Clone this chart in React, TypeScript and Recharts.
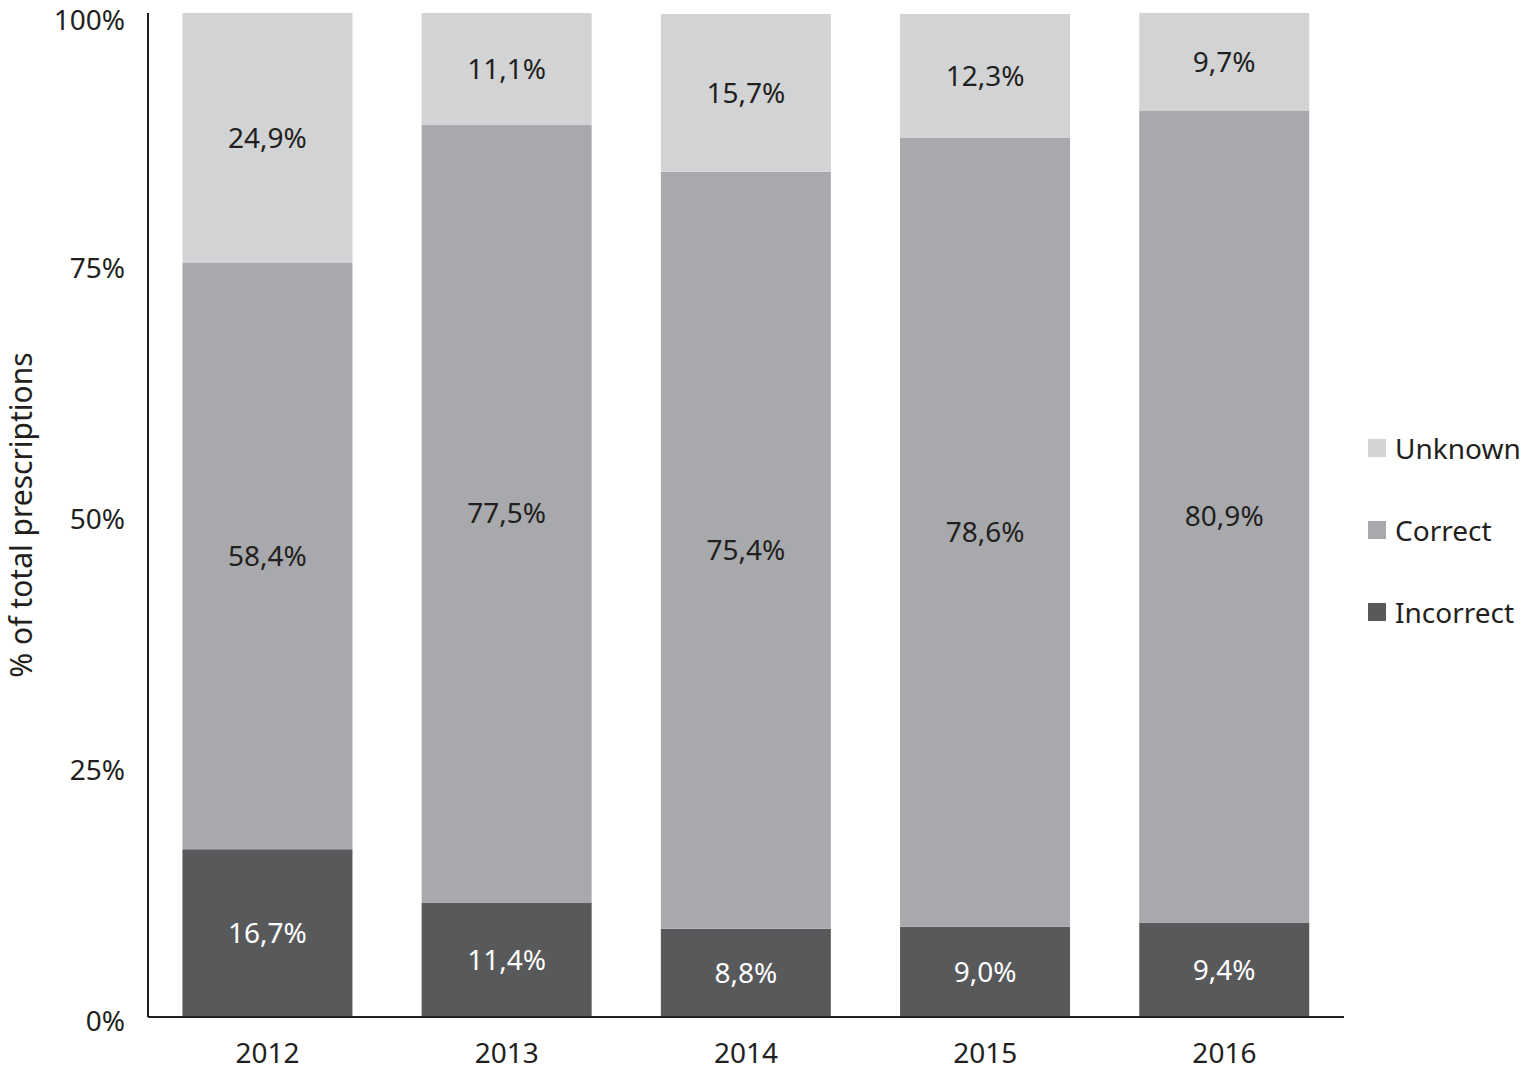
import React from "react";
import { BarChart, Bar, XAxis, YAxis, Legend, LabelList, Label } from "recharts";

const years = ["2012", "2013", "2014", "2015", "2016"];
const incorrect = [16.7, 11.4, 8.8, 9.0, 9.4];
const correct = [58.4, 77.5, 75.4, 78.6, 80.9];
const unknown = [24.9, 11.1, 15.7, 12.3, 9.7];
const yTicks = [0, 25, 50, 75, 100];

const series = [
  { key: "unknown", name: "Unknown", color: "#d1d3d4" },
  { key: "correct", name: "Correct", color: "#a7a9ac" },
  { key: "incorrect", name: "Incorrect", color: "#58595b" },
];

const data = years.map((year, i) => ({
  year,
  incorrect: incorrect[i],
  correct: correct[i],
  unknown: unknown[i],
}));

const FONT = "'Noto Sans', sans-serif";
const INK = "#231f20";
const FS = 28;

const fmt = (v: any) => `${Number(v).toFixed(1).replace(".", ",")}%`;

function LegendBox() {
  return (
    <div style={{ fontFamily: FONT, fontSize: FS, color: INK }}>
      {series.map((s) => (
        <div key={s.key} style={{ display: "flex", alignItems: "center", height: 36, marginBottom: 46 }}>
          <div style={{ width: 18, height: 18, background: s.color, marginRight: 9 }} />
          <span>{s.name}</span>
        </div>
      ))}
    </div>
  );
}

export default function App() {
  return (
    <div style={{ position: "absolute", left: 0, top: 0, background: "#fff" }}>
      <BarChart
        width={1524}
        height={1071}
        data={data}
        margin={{ top: 13, right: 20, bottom: 0, left: 0 }}
        barCategoryGap="14.4%"
      >
        <XAxis
          dataKey="year"
          height={54}
          tickLine={false}
          tickSize={0}
          tickMargin={26}
          axisLine={{ stroke: INK, strokeWidth: 2 }}
          tick={{ fill: INK, fontSize: FS, fontFamily: FONT }}
        />
        <YAxis
          width={148}
          domain={[0, 100]}
          ticks={yTicks}
          tickFormatter={(v) => `${v}%`}
          tickLine={false}
          tickSize={0}
          tickMargin={23}
          axisLine={{ stroke: INK, strokeWidth: 2 }}
          tick={{ fill: INK, fontSize: FS, fontFamily: FONT, dy: 4 }}
        >
          <Label
            content={({ viewBox }: any) => {
              const cy = viewBox.y + viewBox.height / 2;
              return (
                <text
                  transform={`translate(20, ${cy}) rotate(-90)`}
                  textAnchor="middle"
                  dominantBaseline="central"
                  fill={INK}
                  fontSize={30}
                  fontFamily={FONT}
                >
                  % of total prescriptions
                </text>
              );
            }}
          />
        </YAxis>
        <Legend
          layout="vertical"
          align="right"
          verticalAlign="middle"
          content={() => <LegendBox />}
          wrapperStyle={{ left: 1368, top: 430, width: 160, right: "auto" }}
        />
        <Bar dataKey="incorrect" name="Incorrect" stackId="a" fill="#58595b" isAnimationActive={false}>
          <LabelList dataKey="incorrect" position="center" formatter={fmt} fill="#ffffff" fontSize={FS} fontFamily={FONT} />
        </Bar>
        <Bar dataKey="correct" name="Correct" stackId="a" fill="#a7a9ac" isAnimationActive={false}>
          <LabelList dataKey="correct" position="center" formatter={fmt} fill={INK} fontSize={FS} fontFamily={FONT} />
        </Bar>
        <Bar dataKey="unknown" name="Unknown" stackId="a" fill="#d1d3d4" isAnimationActive={false}>
          <LabelList dataKey="unknown" position="center" formatter={fmt} fill={INK} fontSize={FS} fontFamily={FONT} />
        </Bar>
      </BarChart>
    </div>
  );
}
